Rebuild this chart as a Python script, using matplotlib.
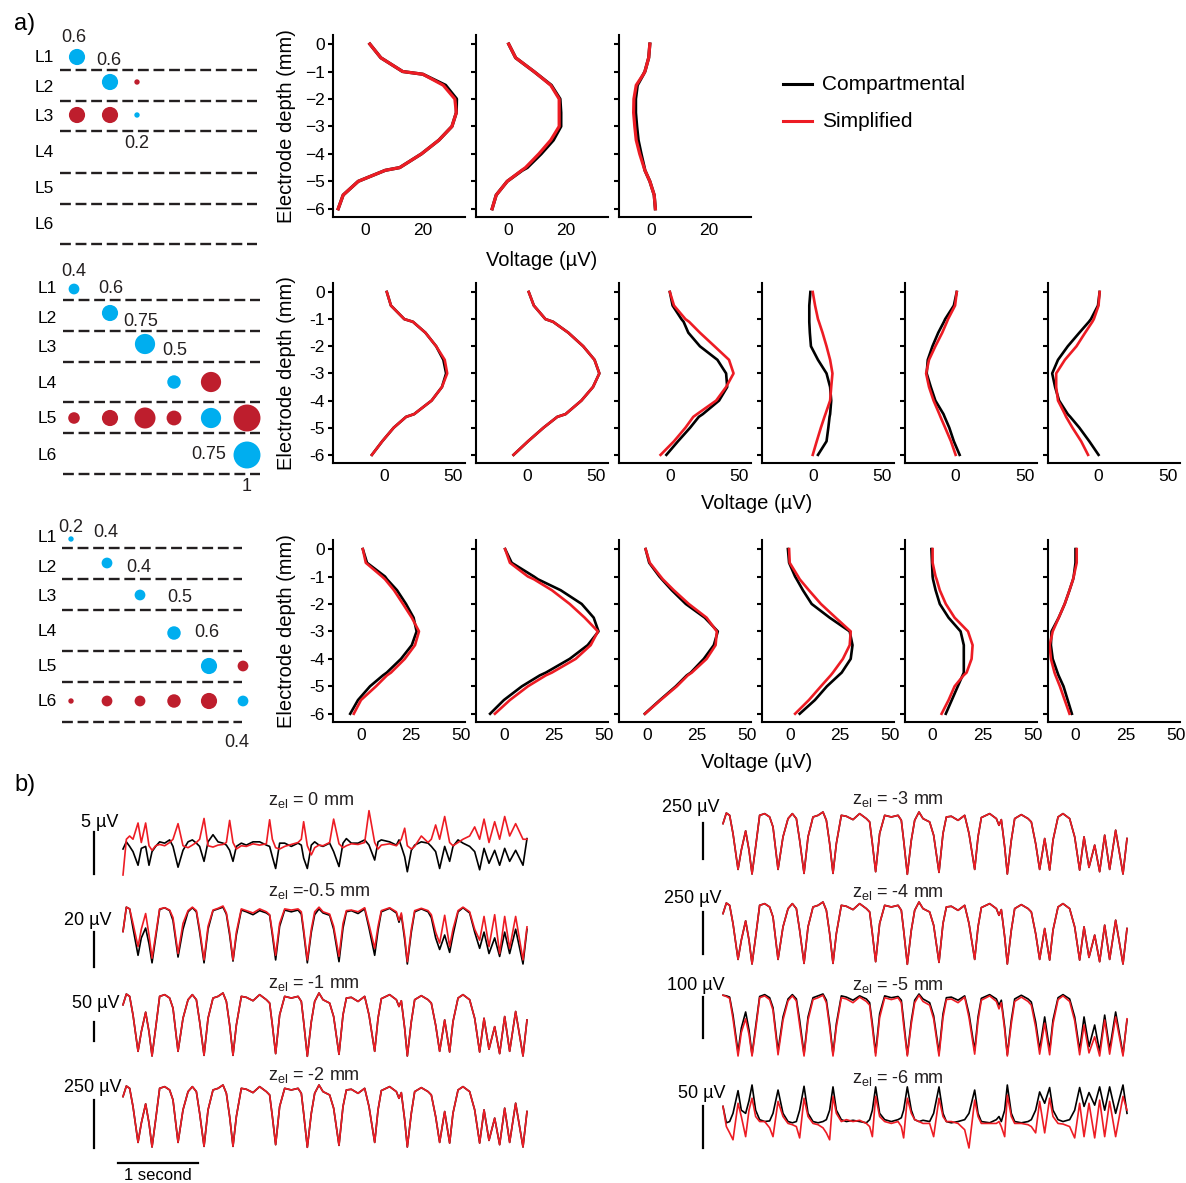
import matplotlib.pyplot as plt

plt.rcParams['font.family'] = ['Liberation Sans', 'DejaVu Sans']
plt.rcParams['mathtext.fontset'] = 'custom'
plt.rcParams['mathtext.rm'] = 'Liberation Sans'

# ---------------- a) schematics: layer, column, weight, colour (b/r) ----------------
sch1_layer = [1, 2, 2, 3, 3, 3]
sch1_col = [0, 1, 2, 0, 1, 2]
sch1_weight = [0.6, 0.6, 0.2, 0.6, 0.6, 0.2]
sch1_type = ['b', 'b', 'r', 'r', 'r', 'b']

sch2_layer = [1, 2, 3, 4, 4, 5, 5, 5, 5, 5, 5, 6]
sch2_col = [0, 1, 2, 3, 4, 0, 1, 2, 3, 4, 5, 5]
sch2_weight = [0.4, 0.6, 0.75, 0.5, 0.75, 0.43, 0.6, 0.78, 0.55, 0.75, 1.0, 1.0]
sch2_type = ['b', 'b', 'b', 'b', 'r', 'r', 'r', 'r', 'r', 'b', 'r', 'b']

sch3_layer = [1, 2, 3, 4, 5, 5, 6, 6, 6, 6, 6, 6]
sch3_col = [0, 1, 2, 3, 4, 5, 0, 1, 2, 3, 4, 5]
sch3_weight = [0.2, 0.4, 0.4, 0.5, 0.6, 0.4, 0.2, 0.4, 0.4, 0.5, 0.6, 0.4]
sch3_type = ['b', 'b', 'b', 'b', 'b', 'r', 'r', 'r', 'r', 'r', 'r', 'b']

sch1_labels = ['0.6', '0.6', '0.2']
sch2_labels = ['0.4', '0.6', '0.75', '0.5', '0.75', '1']
sch3_labels = ['0.2', '0.4', '0.4', '0.5', '0.6', '0.4']

# ---------------- a) depth profiles (µV) ----------------
depth = [0, -0.5, -1.0, -1.1, -1.5, -2.0, -2.5, -3.0, -3.5, -4.0, -4.5, -4.6, -5.0, -5.5, -6.0]

row1_comp = [
    [1.7, 5.5, 13, 20, 27.8, 31.6, 31.5, 30, 25.5, 19.5, 12, 7, -2.3, -7.5, -9.2],
    [0.3, 2.7, 9, 10.2, 15, 18, 18.3, 18.3, 15.7, 11.5, 6.7, 5, -0.2, -4, -5.4],
    [-0.3, -0.7, -2, -2.5, -4.6, -5.2, -5.2, -4.8, -4.3, -3.3, -2.2, -2, -0.3, 1.2, 1.6],
]
row1_simp = [
    [1.7, 5.5, 13, 20, 27, 31, 31.5, 30, 25.5, 19.5, 12, 7, -2.3, -7.5, -9.2],
    [0.3, 2.7, 9, 10.2, 14.8, 17.7, 17.7, 17.7, 14.8, 10.7, 6.1, 4.8, -0.2, -4, -5.4],
    [-0.3, -0.7, -2, -2.5, -5, -5.8, -5.9, -5.5, -5, -3.8, -2.3, -2, -0.3, 1.2, 1.6],
]
row2_comp = [
    [2, 5, 14.7, 21, 30, 37.8, 43, 45, 42, 34.5, 21.8, 16, 7, -1.3, -8.8],
    [1.3, 5, 13.4, 19, 30, 40.8, 49, 52.5, 47.9, 39.5, 28, 22, 12, 0.8, -9.7],
    [0, 2, 8.4, 10, 13.4, 21.8, 34.5, 40.8, 41.6, 35.7, 23.9, 21, 14.7, 5.9, -2.5],
    [-1.7, -2.5, -2.5, -2.5, -2.1, -1.3, 3.8, 10, 12.6, 13.4, 12.6, 12.2, 11.3, 10, 3.8],
    [0.8, -1.3, -7.6, -8.5, -12.6, -16.8, -20.2, -21, -18, -14.7, -8.8, -8, -4.6, -1.3, 2.9],
    [0.8, -0.4, -5.5, -7, -13.9, -22.3, -29.4, -33.6, -31.5, -28.6, -22.3, -20.5, -13.9, -6.7, 0],
]
row2_simp = [
    [2, 5, 14.7, 21, 30, 37.8, 44, 45.8, 42, 34.5, 21.8, 16, 7, -1.3, -8.8],
    [1.3, 5, 13.4, 19, 30, 40.8, 49, 52.5, 47.9, 39.5, 28, 22, 12, 0.8, -9.7],
    [0, 3, 11.3, 14, 21.8, 32.4, 42.9, 46.2, 40.8, 33.6, 19.7, 17, 11.3, 3, -6.7],
    [0, 1.7, 3.8, 4.5, 7.1, 10, 12.6, 14.3, 13.4, 12.6, 9.2, 8.5, 5.9, 2.9, 0],
    [0.8, -0.4, -5.5, -6.3, -9.7, -14.7, -19.3, -21.4, -19.3, -16, -11.8, -11, -7.6, -3.4, 0],
    [0.8, 0, -3.4, -4.5, -9.7, -16, -24.4, -30.7, -30.7, -29.4, -24.4, -23.5, -18.9, -12.6, -7.6],
]
row3_comp = [
    [0.9, 3, 12, 13, 18, 22.5, 26.3, 27.8, 25.4, 20, 12.9, 11, 4.5, -1.5, -5.4],
    [0.6, 3.9, 15, 17, 28.4, 38.9, 44.9, 47.3, 41.9, 32.9, 21, 18, 9, 0, -6.9],
    [-0.6, 1.2, 6.3, 7.5, 12.5, 19.5, 29, 35.5, 33.5, 28.5, 22, 20, 14.5, 6.6, -1],
    [-0.9, -0.3, 2.7, 3.5, 6.6, 11, 20, 30, 31.4, 30.5, 26, 24.5, 18.6, 12.6, 5],
    [-0.6, -0.3, 0, 0.2, 1.5, 3.6, 8, 14, 15.6, 15.6, 15.6, 15, 12.6, 9.6, 6.6],
    [0, 0, -0.9, -1.2, -3, -5.4, -8.4, -12, -12.3, -11.4, -9, -8.5, -6, -3.9, -1.8],
]
row3_simp = [
    [0.9, 2.4, 10.5, 12, 16.5, 21, 25.4, 29, 27, 21.9, 15, 13, 7.5, 0, -3.6],
    [0.6, 3, 12, 15, 24, 32.9, 40.4, 47, 43.4, 35.9, 24, 21, 12, 3, -4.5],
    [-0.6, 1.5, 6.9, 8, 13.5, 21, 29.9, 35, 34.4, 29.9, 22.5, 20.5, 15, 6.9, -0.9],
    [-0.3, 0, 4.2, 5, 9.6, 15.6, 23, 30.5, 30, 26.6, 21.6, 20.5, 15.6, 9.6, 2.7],
    [0, 0, 1.5, 2, 3.6, 6.6, 11, 17.7, 20, 19.5, 17, 15.5, 11, 8, 4.5],
    [0.6, 0.6, -0.9, -1.2, -3, -5.4, -8.4, -11.4, -12.9, -12.3, -10.5, -10, -7.8, -5.4, -3],
]

# ---------------- b) LFP traces (normalised to panel height) ----------------
t_s = [0.0, 0.042, 0.083, 0.125, 0.188, 0.229, 0.283, 0.325, 0.363, 0.408,
       0.458, 0.521, 0.583, 0.625, 0.688, 0.75, 0.813, 0.867, 0.917, 0.958,
       1.013, 1.063, 1.125, 1.188, 1.25, 1.292, 1.333, 1.375, 1.417, 1.479,
       1.542, 1.625, 1.708, 1.792, 1.833, 1.867, 1.908, 1.958, 2.021, 2.104,
       2.188, 2.229, 2.258, 2.304, 2.354, 2.396, 2.45, 2.5, 2.583, 2.633,
       2.7, 2.75, 2.792, 2.854, 2.938, 3.021, 3.075, 3.146, 3.188, 3.229,
       3.333, 3.417, 3.45, 3.479, 3.521, 3.554, 3.604, 3.646, 3.729, 3.813,
       3.854, 3.908, 3.958, 4.021, 4.083, 4.125, 4.188, 4.25, 4.333, 4.396,
       4.458, 4.513, 4.575, 4.646, 4.708, 4.771, 4.833, 4.908, 5.0, 5.05]

trace_mid = [0.816, 0.984, 0.947, 0.658, 0.089, 0.395, 0.7, 0.395, 0.016, 0.447,
             0.947, 0.974, 0.921, 0.763, 0.089, 0.605, 0.895, 0.974, 0.895, 0.553,
             0.026, 0.605, 0.921, 0.947, 1.0, 0.868, 0.5, 0.026, 0.5, 0.947,
             0.932, 0.879, 0.974, 0.895, 0.842, 0.5, 0.053, 0.658, 0.947, 0.921,
             0.947, 0.868, 0.553, 0.011, 0.553, 0.868, 1.0, 0.895, 0.842, 0.632,
             0.042, 0.658, 0.921, 0.932, 0.868, 0.947, 0.658, 0.089, 0.605, 0.911,
             0.974, 0.895, 0.789, 0.879, 0.447, 0.016, 0.553, 0.895, 0.958, 0.895,
             0.842, 0.5, 0.089, 0.579, 0.079, 0.553, 0.921, 0.974, 0.895, 0.605,
             0.079, 0.605, 0.121, 0.474, 0.053, 0.632, 0.089, 0.711, 0.016, 0.579]

trace_0_comp = [0.4, 0.51, 0.44, 0.36, 0.15, 0.41, 0.44, 0.15, 0.36, 0.44,
                0.51, 0.49, 0.54, 0.44, 0.12, 0.38, 0.51, 0.54, 0.49, 0.44,
                0.21, 0.51, 0.62, 0.51, 0.49, 0.46, 0.38, 0.21, 0.44, 0.49,
                0.46, 0.51, 0.51, 0.46, 0.44, 0.28, 0.1, 0.49, 0.49, 0.44,
                0.49, 0.46, 0.26, 0.1, 0.46, 0.51, 0.46, 0.44, 0.49, 0.36,
                0.13, 0.49, 0.56, 0.49, 0.49, 0.54, 0.46, 0.23, 0.51, 0.54,
                0.51, 0.46, 0.54, 0.44, 0.28, 0.05, 0.38, 0.46, 0.51, 0.49,
                0.44, 0.36, 0.1, 0.44, 0.21, 0.44, 0.54, 0.49, 0.44, 0.36,
                0.08, 0.41, 0.18, 0.38, 0.15, 0.41, 0.21, 0.38, 0.15, 0.56]
trace_0_simp = [0.0, 0.55, 0.6, 0.55, 0.8, 0.5, 0.8, 0.45, 0.38, 0.45,
                0.47, 0.45, 0.5, 0.55, 0.79, 0.45, 0.42, 0.46, 0.5, 0.55,
                0.87, 0.45, 0.43, 0.46, 0.47, 0.5, 0.84, 0.5, 0.4, 0.45,
                0.44, 0.48, 0.46, 0.48, 0.85, 0.55, 0.42, 0.4, 0.44, 0.47,
                0.5, 0.55, 0.82, 0.45, 0.31, 0.42, 0.46, 0.45, 0.5, 0.86,
                0.48, 0.42, 0.45, 0.48, 0.47, 0.5, 0.99, 0.5, 0.4, 0.46,
                0.48, 0.45, 0.5, 0.55, 0.72, 0.45, 0.4, 0.44, 0.6, 0.5,
                0.55, 0.77, 0.55, 0.9, 0.5, 0.45, 0.5, 0.55, 0.6, 0.74,
                0.55, 0.86, 0.5, 0.82, 0.55, 0.9, 0.6, 0.79, 0.55, 0.55]

trace_05_comp = [0.56, 0.98, 0.95, 0.62, 0.15, 0.45, 0.62, 0.35, 0.02, 0.45,
                 0.94, 0.97, 0.92, 0.75, 0.12, 0.6, 0.9, 0.97, 0.9, 0.55,
                 0.02, 0.6, 0.92, 0.95, 0.98, 0.86, 0.5, 0.05, 0.5, 0.93,
                 0.9, 0.85, 0.92, 0.88, 0.84, 0.5, 0.07, 0.65, 0.93, 0.9,
                 0.93, 0.86, 0.55, 0.02, 0.55, 0.85, 0.95, 0.88, 0.84, 0.6,
                 0.04, 0.62, 0.9, 0.92, 0.87, 0.95, 0.62, 0.15, 0.58, 0.9,
                 0.96, 0.88, 0.72, 0.85, 0.42, 0.0, 0.55, 0.9, 0.95, 0.9,
                 0.8, 0.45, 0.25, 0.5, 0.2, 0.5, 0.9, 0.97, 0.88, 0.55,
                 0.27, 0.55, 0.18, 0.45, 0.13, 0.55, 0.18, 0.6, 0.0, 0.6]
trace_05_simp = [0.56, 0.98, 0.95, 0.7, 0.3, 0.6, 0.87, 0.5, 0.1, 0.5,
                 0.95, 0.97, 0.93, 0.8, 0.18, 0.7, 0.92, 0.98, 0.92, 0.6,
                 0.07, 0.65, 0.93, 0.96, 1.0, 0.88, 0.55, 0.07, 0.55, 0.95,
                 0.92, 0.88, 0.95, 0.9, 0.85, 0.55, 0.15, 0.7, 0.95, 0.93,
                 0.95, 0.9, 0.6, 0.07, 0.6, 0.9, 0.98, 0.9, 0.86, 0.65,
                 0.13, 0.7, 0.92, 0.93, 0.9, 0.97, 0.68, 0.27, 0.65, 0.92,
                 0.97, 0.9, 0.75, 0.88, 0.48, 0.04, 0.6, 0.92, 0.96, 0.92,
                 0.85, 0.55, 0.36, 0.84, 0.3, 0.6, 0.92, 0.98, 0.9, 0.6,
                 0.41, 0.82, 0.3, 0.85, 0.18, 0.82, 0.27, 0.82, 0.07, 0.64]

trace_5_comp = [0.98, 0.97, 0.95, 0.66, 0.06, 0.45, 0.71, 0.42, 0.02, 0.47,
                0.96, 0.99, 0.94, 0.78, 0.08, 0.63, 0.92, 0.99, 0.92, 0.58,
                0.03, 0.63, 0.94, 0.97, 1.0, 0.9, 0.52, 0.03, 0.52, 0.97,
                0.95, 0.9, 0.97, 0.92, 0.86, 0.52, 0.05, 0.68, 0.97, 0.94,
                0.96, 0.9, 0.57, 0.02, 0.57, 0.9, 1.0, 0.92, 0.86, 0.65,
                0.05, 0.68, 0.94, 0.95, 0.9, 0.97, 0.68, 0.09, 0.63, 0.93,
                0.99, 0.92, 0.82, 0.9, 0.47, 0.02, 0.58, 0.92, 0.98, 0.92,
                0.87, 0.55, 0.1, 0.63, 0.09, 0.58, 0.94, 0.99, 0.92, 0.63,
                0.09, 0.63, 0.15, 0.5, 0.07, 0.66, 0.1, 0.71, 0.03, 0.58]
trace_5_simp = [0.98, 0.96, 0.93, 0.6, 0.0, 0.38, 0.6, 0.35, 0.0, 0.42,
                0.94, 0.97, 0.91, 0.74, 0.02, 0.58, 0.89, 0.97, 0.89, 0.5,
                0.0, 0.58, 0.91, 0.94, 0.98, 0.86, 0.46, 0.0, 0.47, 0.94,
                0.92, 0.86, 0.95, 0.88, 0.82, 0.46, 0.0, 0.62, 0.94, 0.91,
                0.94, 0.86, 0.5, 0.0, 0.52, 0.86, 0.98, 0.88, 0.82, 0.6,
                0.0, 0.62, 0.91, 0.92, 0.86, 0.95, 0.62, 0.03, 0.57, 0.9,
                0.97, 0.88, 0.76, 0.86, 0.42, 0.0, 0.52, 0.88, 0.95, 0.88,
                0.82, 0.47, 0.03, 0.53, 0.02, 0.52, 0.91, 0.97, 0.88, 0.57,
                0.02, 0.5, 0.05, 0.31, 0.0, 0.58, 0.03, 0.63, 0.0, 0.6]

trace_6_comp = [0.66, 0.4, 0.42, 0.55, 0.91, 0.6, 0.55, 0.75, 1.0, 0.6,
                0.45, 0.42, 0.43, 0.55, 0.92, 0.55, 0.42, 0.4, 0.42, 0.6,
                0.98, 0.55, 0.42, 0.4, 0.42, 0.45, 0.6, 0.97, 0.6, 0.45,
                0.42, 0.44, 0.42, 0.4, 0.45, 0.6, 0.97, 0.55, 0.45, 0.42,
                0.45, 0.48, 0.6, 0.97, 0.6, 0.45, 0.42, 0.44, 0.42, 0.55,
                0.97, 0.55, 0.42, 0.4, 0.42, 0.45, 0.55, 0.92, 0.55, 0.42,
                0.4, 0.45, 0.5, 0.42, 0.6, 1.0, 0.55, 0.42, 0.4, 0.42,
                0.45, 0.6, 0.89, 0.71, 0.96, 0.6, 0.45, 0.42, 0.45, 0.6,
                0.96, 0.66, 0.88, 0.68, 0.97, 0.6, 0.97, 0.55, 1.0, 0.55]
trace_6_simp = [0.66, 0.34, 0.24, 0.13, 0.71, 0.5, 0.18, 0.6, 0.79, 0.5,
                0.42, 0.42, 0.32, 0.18, 0.74, 0.5, 0.39, 0.37, 0.34, 0.16,
                0.79, 0.5, 0.39, 0.37, 0.32, 0.24, 0.13, 0.82, 0.55, 0.42,
                0.45, 0.42, 0.44, 0.39, 0.34, 0.18, 0.82, 0.5, 0.42, 0.39,
                0.42, 0.34, 0.16, 0.79, 0.55, 0.45, 0.42, 0.39, 0.39, 0.18,
                0.79, 0.5, 0.42, 0.42, 0.39, 0.29, 0.0, 0.76, 0.5, 0.39,
                0.39, 0.39, 0.42, 0.34, 0.18, 0.84, 0.5, 0.39, 0.39, 0.37,
                0.34, 0.24, 0.74, 0.24, 0.79, 0.5, 0.39, 0.38, 0.34, 0.16,
                0.71, 0.18, 0.71, 0.16, 0.76, 0.18, 0.74, 0.18, 0.82, 0.6]

trace_titles = ['0', '-0.5', '-1', '-2', '-3', '-4', '-5', '-6']
scale_labels = ['5 µV', '20 µV', '50 µV', '250 µV', '250 µV', '250 µV', '100 µV', '50 µV']

RED = '#ED1C24'
SCH_RED = '#BE1E2D'
SCH_BLUE = '#00AEEF'

W, H = 1186, 1183
fig = plt.figure(figsize=(W / 100, H / 100), dpi=100)


def px_axes(x0, y0, x1, y1):
    # axes placed by pixel box (top-left origin)
    return fig.add_axes([x0 / W, 1 - y1 / H, (x1 - x0) / W, (y1 - y0) / H])


ov = px_axes(0, 0, W, H)
ov.set_xlim(0, W)
ov.set_ylim(H, 0)
ov.axis('off')

ov.text(14, 24, 'a)', fontsize=17, va='center')
ov.text(14, 785, 'b)', fontsize=17, va='center')

# schematics
schematics = [
    (sch1_layer, sch1_col, sch1_weight, sch1_type, sch1_labels,
     [77, 110, 137], [57, 82, 115, 152, 188, 224], [57, 87, 116, 152, 188, 224],
     [70, 101, 131, 173, 204, 244], (60, 257), 44,
     [(74, 37), (109, 60), (137, 143)]),
    (sch2_layer, sch2_col, sch2_weight, sch2_type, sch2_labels,
     [74, 110, 145, 174, 211, 247], [289, 313, 344, 382, 418, 455], [288, 318, 347, 383, 418, 455],
     [300, 331, 362, 402, 433, 474], (63, 260), 47,
     [(74, 271), (111, 288), (141, 321), (175, 350), (209, 454), (247, 486)]),
    (sch3_layer, sch3_col, sch3_weight, sch3_type, sch3_labels,
     [71, 107, 140, 174, 209, 243], [539, 563, 595, 633, 666, 701], [537, 567, 596, 631, 666, 701],
     [548, 579, 610, 651, 682, 722], (62, 242), 47,
     [(71, 527), (106, 532), (139, 567), (180, 597), (207, 632), (237, 742)]),
]
for (layer, col, wts, typ, labs, col_x, dot_y, lab_y, dash_y, (xa, xb), lx, lab_pos) in schematics:
    for k, yy in enumerate(lab_y):
        ov.text(lx, yy, f'L{k + 1}', fontsize=12.5, ha='center', va='center')
    for yy in dash_y:
        ov.plot([xa, xb], [yy, yy], color='#231F20', lw=1.7, dashes=(4.6, 2.0))
    ov.scatter([col_x[c] for c in col], [dot_y[l - 1] for l in layer],
               s=[(19.4 * w) ** 2 for w in wts],
               c=[SCH_BLUE if t == 'b' else SCH_RED for t in typ], linewidths=0, zorder=3)
    for (tx, ty), s in zip(lab_pos, labs):
        ov.text(tx, ty, s, fontsize=13, ha='center', va='center', color='#231F20')

# depth profiles
prof_rows = [
    (row1_comp, row1_simp, 35, 217, (-11, 34.5), [0, 20], '\u2212', 2.3, 260),
    (row2_comp, row2_simp, 283, 463, (-37, 58.7), [0, 50], '-', 1.9, 503),
    (row3_comp, row3_simp, 540, 722, (-14, 52), [0, 25, 50], '-', 1.9, 762),
]
yt = list(range(0, -7, -1))
for comp, simp, top, bot, xl, xt, minus, lw, lab_y in prof_rows:
    n = len(comp)
    for i in range(n):
        x0 = 333 + 142.9 * i
        ax = px_axes(x0, top, x0 + 132, bot)
        ax.patch.set_alpha(0)
        ax.plot(comp[i], depth, color='black', lw=lw)
        ax.plot(simp[i], depth, color=RED, lw=lw)
        ax.set_xlim(*xl)
        ax.set_ylim(-6.3, 0.33)
        ax.spines['top'].set_visible(False)
        ax.spines['right'].set_visible(False)
        ax.spines['left'].set_linewidth(1.5)
        ax.spines['bottom'].set_linewidth(1.5)
        ax.set_xticks(xt)
        ax.set_xticklabels([str(v) for v in xt])
        ax.set_yticks(yt)
        if i == 0:
            ax.set_yticklabels([str(v).replace('-', minus) for v in yt])
            ax.set_ylabel('Electrode depth (mm)', fontsize=14.5)
            ax.yaxis.set_label_coords(-0.28, 0.5)
        else:
            ax.set_yticklabels([])
        ax.tick_params(axis='x', length=0, pad=4, labelsize=12.5)
        ax.tick_params(axis='y', length=3.5, width=1.5, pad=2.5, labelsize=12.5)
    ov.text(333 + ((n - 1) * 142.9 + 132) / 2, lab_y, 'Voltage (µV)', fontsize=14.5,
            ha='center', va='center')

# legend
for yy, c, lab in [(84, 'black', 'Compartmental'), (121, RED, 'Simplified')]:
    ov.plot([783, 812], [yy, yy], color=c, lw=2.2)
    ov.text(822, yy, lab, fontsize=15, va='center')

# b) traces
trace_pairs = [(trace_0_comp, trace_0_simp), (trace_05_comp, trace_05_simp),
               (trace_mid, trace_mid), (trace_mid, trace_mid),
               (trace_mid, trace_mid), (trace_mid, trace_mid),
               (trace_5_comp, trace_5_simp), (trace_6_comp, trace_6_simp)]
trace_box = [(123, 810, 875), (123, 906, 964), (123, 993, 1057), (123, 1085, 1148),
             (723, 812, 875), (723, 902, 965), (723, 994, 1056), (723, 1085, 1148)]
title_pos = [(268, 800), (268, 891), (268, 983), (268, 1075),
             (852, 799), (852, 892), (852, 985), (852, 1078)]
bar_pos = [(94, 832, 874), (94, 932, 967), (94, 1022, 1041), (94, 1100, 1148),
           (703, 823, 859), (703, 912, 954), (703, 997, 1038), (703, 1106, 1148)]
scale_pos = [(118, 822), (112, 920), (120, 1003), (122, 1088),
             (720, 807), (722, 898), (725, 985), (725, 1093)]

for k, ((comp, simp), (x0, top, bot)) in enumerate(zip(trace_pairs, trace_box)):
    ax = px_axes(x0, top, x0 + 404, bot)
    ax.plot(t_s, comp, color='black', lw=1.2, clip_on=False)
    ax.plot(t_s, simp, color=RED, lw=1.2, clip_on=False)
    ax.set_xlim(0, 5.05)
    ax.set_ylim(0, 1)
    ax.axis('off')
    sep = '=' if trace_titles[k] == '-0.5' else '= '
    tx, ty = title_pos[k]
    ov.text(tx, ty, 'z$_{\\mathrm{el}}$ ' + sep + trace_titles[k] + ' mm', fontsize=13,
            va='center', color='#231F20')
    bx, b0, b1 = bar_pos[k]
    ov.plot([bx, bx], [b0, b1], color='black', lw=1.6)
    sx, sy = scale_pos[k]
    ov.text(sx, sy, scale_labels[k], fontsize=13, ha='right', va='center')
    if k == 3:
        tr = ax.get_xaxis_transform()
        ax.plot([-0.06, 0.94], [-0.24, -0.24], color='black', lw=1.6, transform=tr, clip_on=False)
        ax.text(0.44, -0.44, '1 second', transform=tr, fontsize=12, ha='center', va='center')

fig.savefig('out.png', dpi=100)
